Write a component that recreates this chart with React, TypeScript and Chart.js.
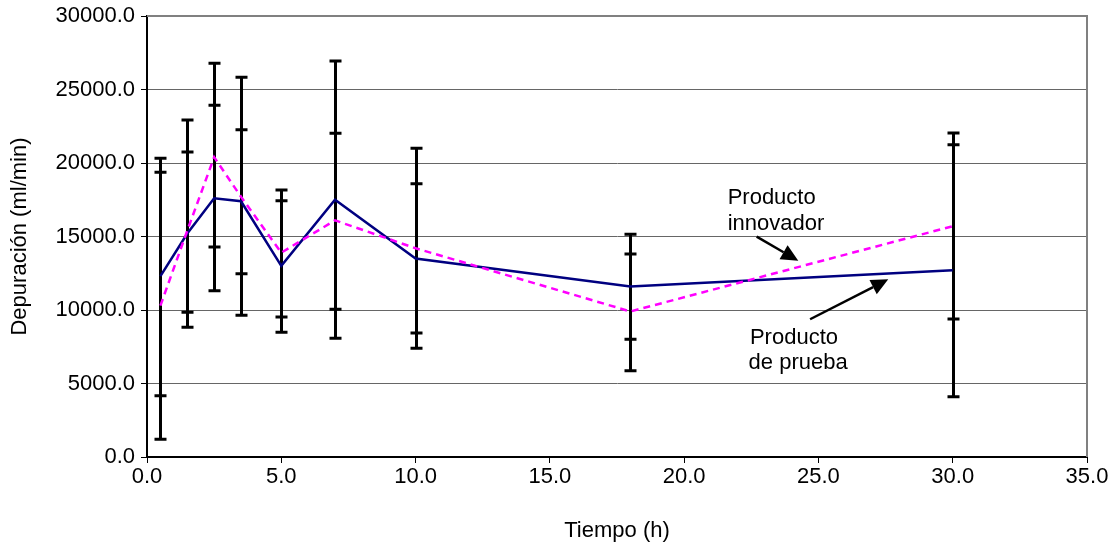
import React, { useEffect, useRef } from "react";
import { Chart, registerables } from "chart.js";

Chart.register(...registerables);

// ---- Data ----
const times = [0.5, 1.5, 2.5, 3.5, 5, 7, 10, 18, 30];
const prueba = [12300, 15200, 17600, 17400, 13000, 17500, 13500, 11600, 12700];
const innovador = [10300, 15400, 20400, 17700, 13900, 16100, 14200, 9900, 15700];
const pruebaLow = [4170, 9840, 11310, 12470, 8480, 8080, 8440, 8010, 4100];
const pruebaHigh = [20320, 20750, 23930, 22270, 18160, 26940, 18590, 15150, 21250];
const innovadorLow = [1200, 8820, 14290, 9640, 9520, 10050, 7400, 5870, 9390];
const innovadorHigh = [19370, 22930, 26780, 25830, 17440, 22020, 21000, 13810, 22040];
const xTicks = [0, 5, 10, 15, 20, 25, 30, 35];
const yTicks = [0, 5000, 10000, 15000, 20000, 25000, 30000];
const seriesLabels = ["Producto de prueba", "Producto innovador"];
const xTitle = "Tiempo (h)";
const yTitle = "Depuración (ml/min)";
const noteInnovador = ["Producto", "innovador"];
const notePrueba = ["Producto", "de prueba"];

const FONT = "'Liberation Sans', Arial, sans-serif";
const FS = 22;

const errorBarPlugin = {
  id: "errorBars",
  beforeDatasetsDraw(chart: any) {
    const { ctx, scales } = chart;
    const xs = scales.x;
    const ys = scales.y;
    ctx.save();
    ctx.strokeStyle = "#000";
    ctx.lineWidth = 3;
    ctx.lineCap = "butt";
    const draw = (lows: number[], highs: number[]) => {
      for (let i = 0; i < times.length; i++) {
        const px = Math.round(xs.getPixelForValue(times[i])) + 0.5;
        const y1 = ys.getPixelForValue(lows[i]);
        const y2 = ys.getPixelForValue(highs[i]);
        ctx.beginPath();
        ctx.moveTo(px, y1);
        ctx.lineTo(px, y2);
        ctx.moveTo(px - 6, y1);
        ctx.lineTo(px + 6, y1);
        ctx.moveTo(px - 6, y2);
        ctx.lineTo(px + 6, y2);
        ctx.stroke();
      }
    };
    draw(pruebaLow, pruebaHigh);
    draw(innovadorLow, innovadorHigh);
    ctx.restore();
  },
};

const framePlugin = {
  id: "frame",
  beforeDatasetsDraw(chart: any) {
    const { ctx, chartArea } = chart;
    ctx.save();
    ctx.strokeStyle = "#808080";
    ctx.lineWidth = 2;
    ctx.beginPath();
    ctx.moveTo(chartArea.left, chartArea.top);
    ctx.lineTo(chartArea.right, chartArea.top);
    ctx.lineTo(chartArea.right, chartArea.bottom);
    ctx.stroke();
    ctx.restore();
  },
};

function arrow(ctx: any, x1: number, y1: number, x2: number, y2: number) {
  const ang = Math.atan2(y2 - y1, x2 - x1);
  const len = 17;
  const w = 8;
  const bx = x2 - len * Math.cos(ang);
  const by = y2 - len * Math.sin(ang);
  ctx.beginPath();
  ctx.moveTo(x1, y1);
  ctx.lineTo(bx, by);
  ctx.stroke();
  ctx.beginPath();
  ctx.moveTo(x2, y2);
  ctx.lineTo(bx + w * Math.sin(ang), by - w * Math.cos(ang));
  ctx.lineTo(bx - w * Math.sin(ang), by + w * Math.cos(ang));
  ctx.closePath();
  ctx.fill();
}

const annotationPlugin = {
  id: "notes",
  afterDatasetsDraw(chart: any) {
    const { ctx, scales } = chart;
    const X = (v: number) => scales.x.getPixelForValue(v);
    const Y = (v: number) => scales.y.getPixelForValue(v);
    ctx.save();
    ctx.fillStyle = "#000";
    ctx.strokeStyle = "#000";
    ctx.lineWidth = 2.5;
    ctx.font = `${FS}px ${FONT}`;
    ctx.textAlign = "left";
    ctx.textBaseline = "middle";
    ctx.fillText(noteInnovador[0], X(21.62), Y(17620));
    ctx.fillText(noteInnovador[1], X(21.62), Y(15850));
    ctx.fillText(notePrueba[0], X(22.45), Y(8100));
    ctx.fillText(notePrueba[1], X(22.4), Y(6400));
    arrow(ctx, X(22.7), Y(14990), X(24.25), Y(13350));
    arrow(ctx, X(24.69), Y(9370), X(27.6), Y(12090));
    ctx.restore();
  },
};

export default function App() {
  const ref = useRef<HTMLCanvasElement | null>(null);
  useEffect(() => {
    if (!ref.current) return;
    const chart = new Chart(ref.current, {
      type: "line",
      data: {
        datasets: [
          {
            label: seriesLabels[0],
            data: times.map((t, i) => ({ x: t, y: prueba[i] })),
            borderColor: "#000080",
            borderWidth: 2.5,
            pointRadius: 0,
            tension: 0,
            order: 1,
          },
          {
            label: seriesLabels[1],
            data: times.map((t, i) => ({ x: t, y: innovador[i] })),
            borderColor: "#ff00ff",
            borderWidth: 2.5,
            borderDash: [7, 5],
            pointRadius: 0,
            tension: 0,
            order: 0,
          },
        ],
      },
      options: {
        responsive: false,
        animation: false,
        layout: { padding: { top: 16, right: 32, left: 0, bottom: 0 } },
        plugins: { legend: { display: false }, tooltip: { enabled: false } },
        scales: {
          x: {
            type: "linear",
            min: 0,
            max: 35,
            afterFit: (s: any) => {
              s.height = 93;
              s.paddingLeft = 0;
              s.paddingRight = 0;
            },
            afterBuildTicks: (s: any) => {
              s.ticks = xTicks.map((v) => ({ value: v }));
            },
            ticks: {
              color: "#000",
              font: { family: FONT, size: FS },
              padding: 1,
              maxRotation: 0,
              callback: (v: any) => Number(v).toFixed(1),
            },
            grid: {
              drawOnChartArea: false,
              drawTicks: true,
              tickLength: 6,
              tickColor: "#000",
              tickWidth: 1,
            },
            border: { display: true, color: "#000", width: 2 },
            title: {
              display: true,
              text: xTitle,
              color: "#000",
              font: { family: FONT, size: FS },
              padding: { top: 0, bottom: 6 },
            },
          },
          y: {
            type: "linear",
            min: 0,
            max: 30000,
            afterFit: (s: any) => {
              s.width = 147;
              s.paddingTop = 0;
              s.paddingBottom = 0;
            },
            afterBuildTicks: (s: any) => {
              s.ticks = yTicks.map((v) => ({ value: v }));
            },
            ticks: {
              color: "#000",
              font: { family: FONT, size: FS },
              padding: 6,
              callback: (v: any) => Number(v).toFixed(1),
            },
            grid: {
              color: "#666",
              lineWidth: 1,
              tickLength: 6,
              tickColor: "#000",
            },
            border: { display: true, color: "#000", width: 2 },
            title: {
              display: true,
              text: yTitle,
              color: "#000",
              font: { family: FONT, size: FS },
              padding: { top: 7, bottom: 0 },
            },
          },
        },
      },
      plugins: [framePlugin, errorBarPlugin, annotationPlugin],
    } as any);
    return () => chart.destroy();
  }, []);
  return (
    <div style={{ position: "fixed", left: 0, top: 0, width: 1119, height: 550, background: "#fff" }}>
      <canvas ref={ref} width={1119} height={550} style={{ display: "block" }} />
    </div>
  );
}
